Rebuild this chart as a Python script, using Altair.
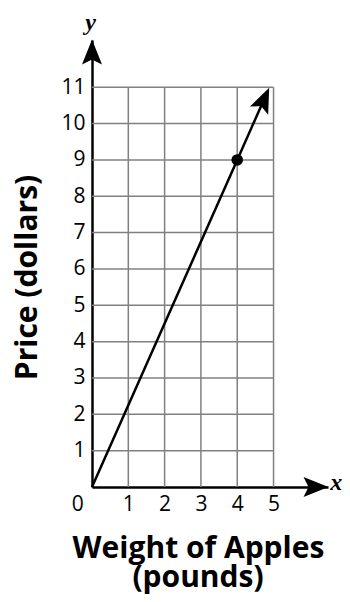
import altair as alt
import pandas as pd

# ---- data ----
x_grid = [1, 2, 3, 4, 5]
y_grid = [1, 2, 3, 4, 5, 6, 7, 8, 9, 10, 11]
line_x = [0, 4, 4.74]
line_y = [0, 9, 10.67]
point_x = [4]
point_y = [9]
arrow_x = [0, 6.17, 4.74]
arrow_y = [11.97, 0, 10.67]
arrow_angle = [0, 90, 24]
origin_label = ["0"]
axis_letters = ["x", "y"]
letter_x = [6.73, -0.04]
letter_y = [0.1, 12.76]
x_title_line2 = ["(pounds)"]

FONT = "Open Sans"
xs = alt.Scale(domain=[0, 6.5], nice=False, zero=False)
ys = alt.Scale(domain=[0, 12.3], nice=False, zero=False)

vgrid = pd.DataFrame({"x": x_grid, "y0": [0] * len(x_grid), "y1": [11] * len(x_grid)})
hgrid = pd.DataFrame({"y": y_grid, "x0": [0] * len(y_grid), "x1": [5] * len(y_grid)})
line_df = pd.DataFrame({"x": line_x, "y": line_y})
pt_df = pd.DataFrame({"x": point_x, "y": point_y})
arr_df = pd.DataFrame({"x": arrow_x, "y": arrow_y, "a": arrow_angle})
zero_df = pd.DataFrame({"t": origin_label, "x": [-0.39], "y": [-0.5]})
let_df = pd.DataFrame({"t": axis_letters, "x": letter_x, "y": letter_y})
sub_df = pd.DataFrame({"t": x_title_line2, "x": [2.92], "y": [-2.75]})

x_axis = alt.Axis(values=x_grid, domainColor="black", domainWidth=2.5, ticks=False,
                  grid=False, labelFont=FONT, labelFontSize=21, labelColor="black",
                  labelPadding=6, labelAngle=0,
                  title="Weight of Apples", titleFont=FONT,
                  titleFontSize=30, titleFontWeight="bold", titleColor="black",
                  titleX=106, titleY=70, titleAlign="center", titleBaseline="alphabetic",
                  titleLimit=400)
y_axis = alt.Axis(values=y_grid, domainColor="black", domainWidth=2.5, ticks=False,
                  grid=False, labelFont=FONT, labelFontSize=21, labelColor="black",
                  labelPadding=7,
                  title="Price (dollars)", titleFont=FONT, titleFontSize=30,
                  titleFontWeight="bold", titleColor="black", titleAngle=270,
                  titleX=-65, titleY=237, titleAlign="center", titleBaseline="middle",
                  titleLimit=400)


def X(f):
    return alt.X(f, scale=xs, axis=x_axis)


def Y(f):
    return alt.Y(f, scale=ys, axis=y_axis)


vr = alt.Chart(vgrid).mark_rule(color="#808080", strokeWidth=1.5).encode(
    x=X("x:Q"), y=Y("y0:Q"), y2="y1:Q",
)
hr = alt.Chart(hgrid).mark_rule(color="#808080", strokeWidth=1.5).encode(
    y=Y("y:Q"), x=X("x0:Q"), x2="x1:Q",
)
ln = alt.Chart(line_df).mark_line(color="black", strokeWidth=2.5).encode(
    x=X("x:Q"), y=Y("y:Q"),
)
pt = alt.Chart(pt_df).mark_point(filled=True, color="black", opacity=1, size=133).encode(
    x=X("x:Q"), y=Y("y:Q"),
)
arr = alt.Chart(arr_df).mark_point(
    shape="M0,-1L0.8,1L0,0.6L-0.8,1Z", filled=True, color="black", opacity=1, size=625
).encode(
    x=X("x:Q"), y=Y("y:Q"),
    angle=alt.Angle("a:Q", scale=None),
)
zero = alt.Chart(zero_df).mark_text(font=FONT, fontSize=21, color="black",
                                    baseline="middle", align="center").encode(
    x=X("x:Q"), y=Y("y:Q"), text="t:N",
)
letters = alt.Chart(let_df).mark_text(font="Liberation Serif", fontSize=24, fontStyle="italic",
                                      fontWeight="bold", color="black",
                                      baseline="middle", align="center").encode(
    x=X("x:Q"), y=Y("y:Q"), text="t:N",
)
sub = alt.Chart(sub_df).mark_text(font=FONT, fontSize=30, fontWeight="bold", color="black",
                                  baseline="alphabetic", align="center").encode(
    x=X("x:Q"), y=Y("y:Q"), text="t:N",
)

chart = alt.layer(vr, hr, ln, pt, arr, zero, letters, sub).properties(
    width=236, height=447,
    autosize=alt.AutoSizeParams(type="none"),
    padding={"left": 84, "top": 32, "right": 14, "bottom": 107},
).configure_view(stroke=None)

chart.save("out.html", embed_options={"renderer": "svg", "actions": False})
